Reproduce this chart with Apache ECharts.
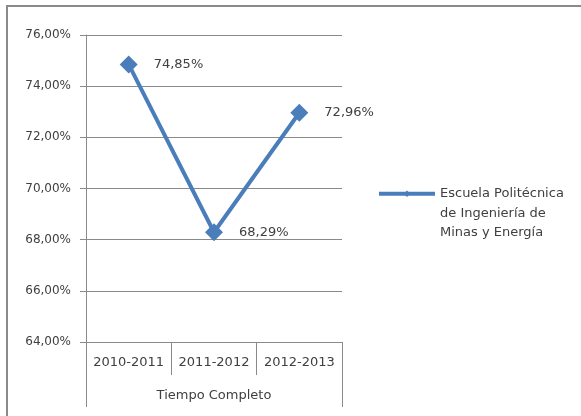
<!DOCTYPE html>
<html>
<head>
<meta charset="utf-8">
<script src="https://cdn.jsdelivr.net/npm/echarts@6/dist/echarts.min.js"></script>
<style>
html,body{margin:0;padding:0;background:#fff;}
#frame{position:absolute;left:6px;top:5px;width:581px;height:420px;border-top:2px solid #8a8a8a;border-left:2px solid #8a8a8a;}
#chart{position:absolute;left:0;top:0;width:581px;height:416px;}
</style>
</head>
<body>
<div id="frame"></div>
<div id="chart"></div>
<script>
var categories = ['2010-2011', '2011-2012', '2012-2013'];
var groupLabel = ['Tiempo Completo'];
var seriesName = 'Escuela Politécnica\nde Ingeniería de\nMinas y Energía';
var values = [74.85, 68.29, 72.96];
var yMin = 64, yMax = 76, yStep = 2;

function pct(v){ return v.toFixed(2).replace('.', ',') + '%'; }

var font = 'DejaVu Sans';
var txt = '#404040';
var chart = echarts.init(document.getElementById('chart'), null, {renderer:'canvas'});
chart.setOption({
  backgroundColor: 'transparent',
  animation: false,
  grid: {left: 86, top: 35, right: 239, bottom: 74},
  xAxis: [{
    type: 'category', data: categories, position: 'bottom', boundaryGap: true,
    axisLine: {show: true, lineStyle: {color: '#8a8a8a', width: 1}},
    axisTick: {show: true, interval: 0, length: 33, alignWithLabel: false, lineStyle: {color: '#8a8a8a'}},
    axisLabel: {interval: 0, hideOverlap: false, margin: 14, color: txt, fontFamily: font, fontSize: 13}
  }, {
    type: 'category', data: groupLabel, position: 'bottom', offset: 33, boundaryGap: true,
    axisLine: {show: false},
    axisTick: {show: true, interval: 0, length: 32, lineStyle: {color: '#8a8a8a'}},
    axisLabel: {interval: 0, margin: 14, color: txt, fontFamily: font, fontSize: 13}
  }],
  yAxis: {
    type: 'value', min: yMin, max: yMax, interval: yStep,
    axisLine: {show: true, lineStyle: {color: '#8a8a8a'}},
    axisTick: {show: true, length: 6, inside: false, lineStyle: {color: '#8a8a8a'}},
    splitLine: {show: true, lineStyle: {color: '#8a8a8a', width: 1}},
    axisLabel: {margin: 15, color: txt, fontFamily: font, fontSize: 12, formatter: function(v){ return pct(v); }}
  },
  legend: {
    show: true, orient: 'vertical', left: 377, top: 145, padding: 0,
    itemWidth: 56, itemHeight: 8, itemGap: 0,
    data: [{name: seriesName}],
    lineStyle: {width: 4},
    formatter: function(n){ return '\n\n' + n; },
    textStyle: {color: txt, fontFamily: font, fontSize: 13, lineHeight: 19.5}
  },
  series: [{
    name: seriesName, type: 'line', xAxisIndex: 0, data: values,
    symbol: 'diamond', symbolSize: 18,
    lineStyle: {color: '#4a7ebb', width: 4},
    itemStyle: {color: '#4a7ebb'},
    label: {show: true, position: 'right', distance: 16, color: txt, fontFamily: font, fontSize: 13,
      formatter: function(p){ return pct(p.value); }}
  }]
});
</script>
</body>
</html>
